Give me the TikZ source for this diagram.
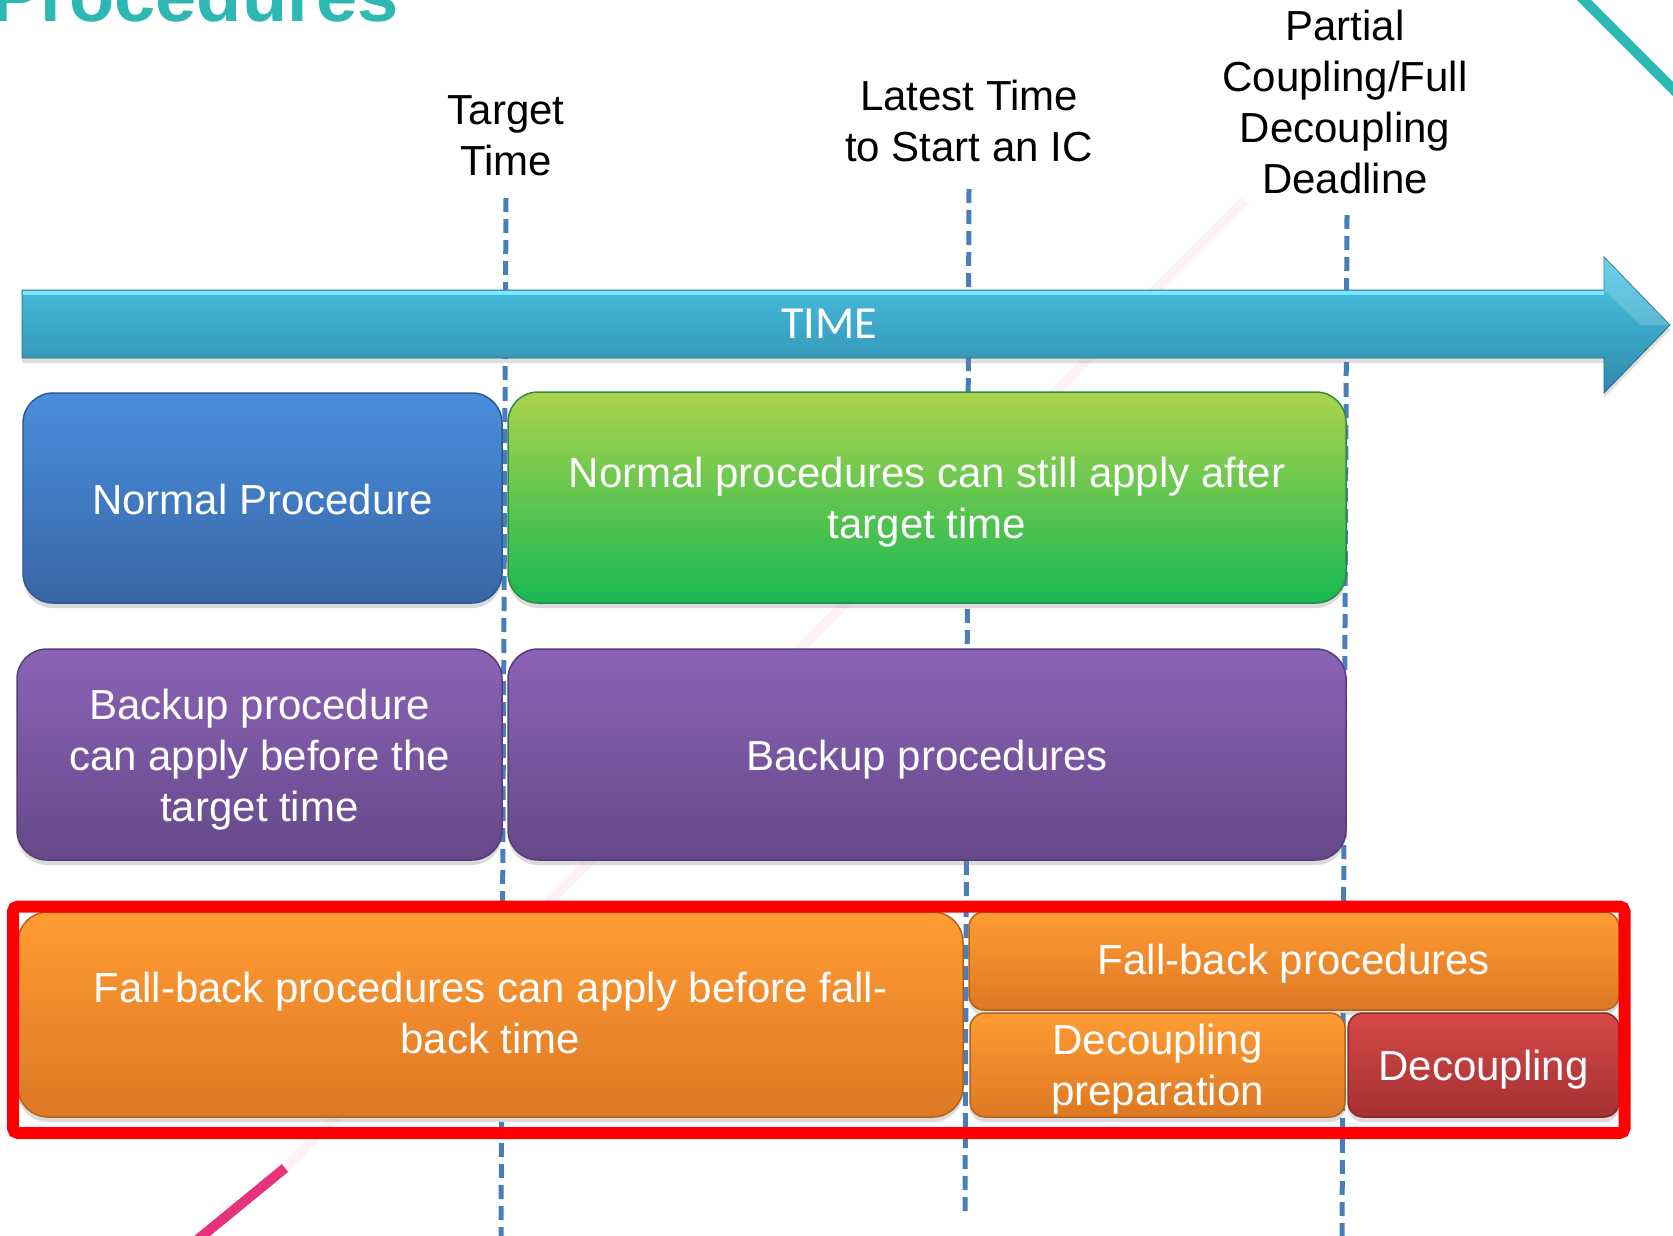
\documentclass[tikz,border=0pt]{standalone}
\usepackage{fontspec}
\setmainfont{Liberation Sans}
\newfontfamily\timefont{Carlito}
\usetikzlibrary{shadows}
\definecolor{tealc}{HTML}{2DB8B4}
\definecolor{dashblue}{HTML}{4A7EBB}
\definecolor{pinkc}{HTML}{E6337A}
\definecolor{arrT}{HTML}{4CC8E8}
\definecolor{arrB}{HTML}{2E8AAB}
\definecolor{arrH}{HTML}{7AE8FF}
\definecolor{blueT}{HTML}{4A8EDC}
\definecolor{blueB}{HTML}{3766A6}
\definecolor{blueD}{HTML}{2E5B94}
\definecolor{greenT}{HTML}{ABD34C}
\definecolor{greenB}{HTML}{18B853}
\definecolor{greenD}{HTML}{2E8B45}
\definecolor{purpT}{HTML}{8B63B6}
\definecolor{purpB}{HTML}{66488A}
\definecolor{purpD}{HTML}{553E78}
\definecolor{orT}{HTML}{FF9C33}
\definecolor{orB}{HTML}{DD7824}
\definecolor{orD}{HTML}{B5621A}
\definecolor{rdT}{HTML}{D64848}
\definecolor{rdB}{HTML}{A53131}
\definecolor{rdD}{HTML}{8A2828}
\definecolor{hlred}{HTML}{FF0000}
\begin{document}
\begin{tikzpicture}[x=1pt,y=-1pt,
  lbl/.style={font=\fontsize{42}{51}\selectfont, align=center, inner sep=0pt, anchor=north},
  pbox/.style={rounded corners=30pt, inner sep=0pt, outer sep=0pt, anchor=north west, line width=1.5pt,
    drop shadow={opacity=0.28, shadow xshift=0pt, shadow yshift=-5pt}},
  ptxt/.style={inner sep=0pt, align=center, text=white, font=\fontsize{42}{51}\selectfont},
  bbox/.style={pbox, top color=blueT, bottom color=blueB, draw=blueD},
  gbox/.style={pbox, top color=greenT, bottom color=greenB, draw=greenD},
  vbox/.style={pbox, top color=purpT, bottom color=purpB, draw=purpD},
  obox/.style={pbox, top color=orT, bottom color=orB, draw=orD},
  rbox/.style={pbox, top color=rdT, bottom color=rdB, draw=rdD},
  small/.style={rounded corners=15pt},
  tline/.style={draw=dashblue, line width=5pt, dash pattern=on 14pt off 7pt},
]
\useasboundingbox (0,0) rectangle (1673,1236);
\clip (0,0) rectangle (1673,1236);
\fill[white] (0,0) rectangle (1673,1236);

% decorative lines
\draw[pinkc, opacity=0.06, line width=10pt] (285,1168) -- (1245,200);
\draw[pinkc, line width=10pt] (185,1250) -- (285,1168);
\draw[tealc, line width=10pt] (1574,-10) -- (1690,106);

% title fragment
\node[anchor=base west, inner sep=0pt, text=tealc, font=\fontsize{74}{80}\selectfont\bfseries] (title) at (-9,22) {Procedures};

% milestone labels
\node[lbl] (lT) at (506,95) {Target\\Time};
\node[lbl] (lL) at (969,80) {Latest Time\\to Start an IC};
\node[lbl] (lD) at (1345,10) {Partial\\Coupling/Full\\Decoupling\\Deadline};

% dashed milestone lines
\coordinate (tT) at (506,198); \coordinate (bT) at (501,1236);
\coordinate (tL) at (969,189); \coordinate (bL) at (965,1216);
\coordinate (tD) at (1347,215); \coordinate (bD) at (1342,1236);
\draw[tline] (tT) -- (bT);
\draw[tline] (tL) -- (bL);
\draw[tline] (tD) -- (bD);

% time arrow
\path[top color=arrT, bottom color=arrB, draw=arrB!80!black, line width=0.8pt,
      drop shadow={opacity=0.25, shadow xshift=0pt, shadow yshift=-5pt}]
  (22,290) -- (1604,290) -- (1604,257) -- (1670,325) -- (1604,393) -- (1604,358) -- (22,358) -- cycle;
\draw[arrH, line width=4pt] (23,292.5) -- (1604,292.5);
\fill[white, opacity=0.18] (1604,257) -- (1670,325) -- (1640,325) -- (1604,290) -- cycle;
\node[text=white, font=\timefont\fontsize{46}{50}\selectfont, inner sep=0pt] (time) at (829,324) {TIME};

% procedure boxes
\node[bbox, minimum width=479pt, minimum height=210pt] (np) at (23,393) {};
\node[gbox, minimum width=838pt, minimum height=211pt] (na) at (508,392) {};
\node[vbox, minimum width=485pt, minimum height=211pt] (bp) at (17,649) {};
\node[vbox, minimum width=838pt, minimum height=211pt] (bs) at (508,649) {};
\node[obox, minimum width=945pt, minimum height=205pt] (fb) at (18,912) {};
\node[obox, small, minimum width=650pt, minimum height=98pt] (fp) at (969,912) {};
\node[obox, small, minimum width=375pt, minimum height=104pt] (dp) at (970,1013) {};
\node[rbox, small, minimum width=271pt, minimum height=104pt] (dc) at (1348,1013) {};

% box texts
\node[ptxt, yshift=-1pt] (npt) at (np.center) {Normal Procedure};
\node[ptxt, yshift=-5pt] (nat) at (na.center) {Normal procedures can still apply after\\target time};
\node[ptxt, yshift=-5pt] (bpt) at (bp.center) {Backup procedure\\can apply before the\\target time};
\node[ptxt, yshift=-5pt] (bst) at (bs.center) {Backup procedures};
\node[ptxt, yshift=2pt] (fbt) at (fb.center) {Fall-back procedures can apply before fall-\\back time};
\node[ptxt, yshift=-3pt] (fpt) at (fp.center) {Fall-back procedures};
\node[ptxt, yshift=-4pt] (dpt) at (dp.center) {Decoupling\\preparation};
\node[ptxt, yshift=-5pt] (dct) at (dc.center) {Decoupling};

% highlight frame
\node[draw=hlred, line width=12pt, rounded corners=5pt, inner sep=0pt, outer sep=0pt, anchor=north west,
      minimum width=1611.5pt, minimum height=226.5pt] (hl) at (13,906.5) {};
\end{tikzpicture}
\end{document}
